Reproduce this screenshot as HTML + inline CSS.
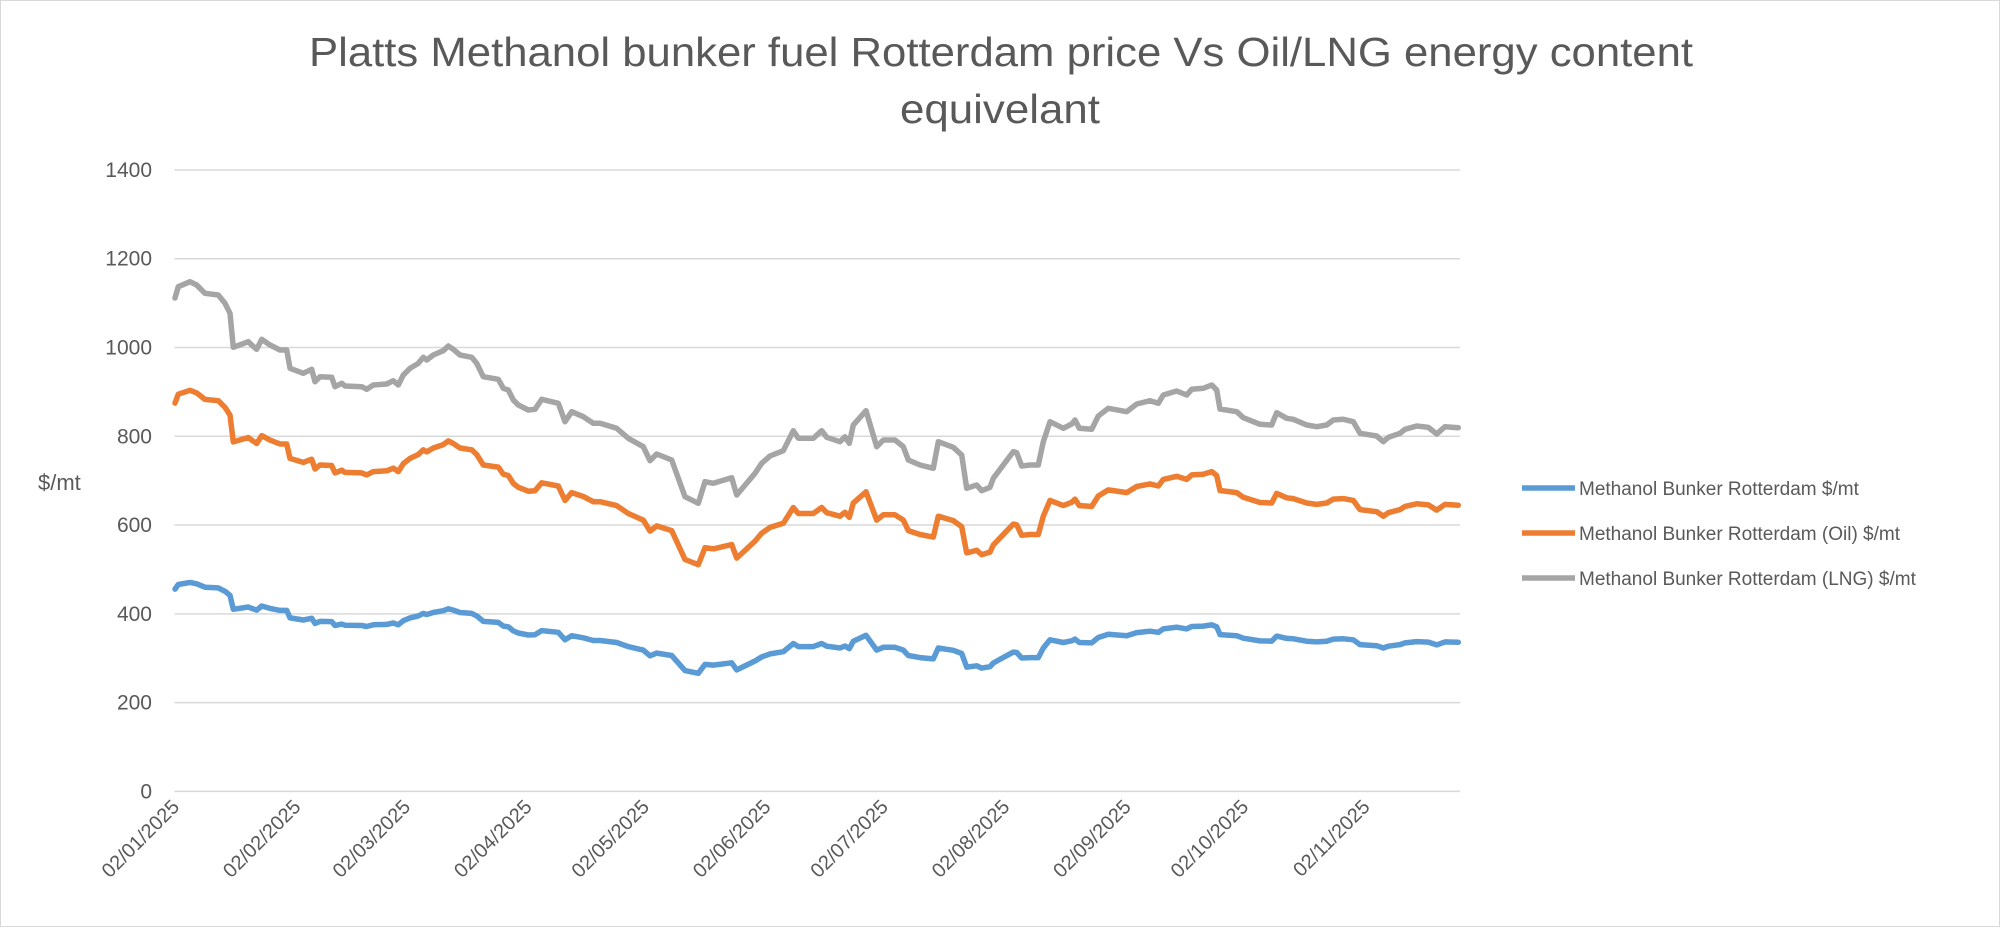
<!DOCTYPE html>
<html><head><meta charset="utf-8"><style>
html,body{margin:0;padding:0;background:#fff;}
svg{display:block;}
text{font-family:"Liberation Sans",sans-serif;fill:#595959;}
</style></head><body>
<svg id="s" width="2000" height="927" viewBox="0 0 2000 927" xmlns="http://www.w3.org/2000/svg">
<rect x="0.5" y="0.5" width="1999" height="926" fill="#fff" stroke="#d9d9d9"/>
<text x="309" y="66" font-size="41" textLength="1384" lengthAdjust="spacingAndGlyphs">Platts Methanol bunker fuel Rotterdam price Vs Oil/LNG energy content</text>
<text x="900" y="123" font-size="41" textLength="200" lengthAdjust="spacingAndGlyphs">equivelant</text>
<g id="grid" stroke="#d9d9d9" stroke-width="1.5"></g>
<g id="ylab" font-size="21" text-anchor="end"></g>
<text x="38" y="490" font-size="22">$/mt</text>
<g id="xlab" font-size="20" text-anchor="end"></g>
<g id="series" fill="none" stroke-width="5.5" stroke-linejoin="round" stroke-linecap="round"></g>
<g font-size="19">
<line x1="1522" y1="488" x2="1575" y2="488" stroke="#5b9bd5" stroke-width="5.5"/>
<text x="1579" y="495">Methanol Bunker Rotterdam $/mt</text>
<line x1="1522" y1="533" x2="1575" y2="533" stroke="#ed7d31" stroke-width="5.5"/>
<text x="1579" y="540">Methanol Bunker Rotterdam (Oil) $/mt</text>
<line x1="1522" y1="578" x2="1575" y2="578" stroke="#a5a5a5" stroke-width="5.5"/>
<text x="1579" y="585">Methanol Bunker Rotterdam (LNG) $/mt</text>
</g>
</svg>
<script>
var NS="http://www.w3.org/2000/svg";
function el(p,n,a,t){var e=document.createElementNS(NS,n);for(var k in a)e.setAttribute(k,a[k]);if(t)e.textContent=t;p.appendChild(e);return e;}
var y0=791.4,ppu=0.4439,L=174.5,R=1460;
var g=document.getElementById('grid'),yl=document.getElementById('ylab');
for(var v=0;v<=1400;v+=200){var y=y0-v*ppu;el(g,'line',{x1:L,x2:R,y1:y,y2:y});el(yl,'text',{x:152,y:y+7},String(v));}
var xl=document.getElementById('xlab');
var days=[0,31,59,90,120,151,181,212,243,273,304],labs=["02/01/2025","02/02/2025","02/03/2025","02/04/2025","02/05/2025","02/06/2025","02/07/2025","02/08/2025","02/09/2025","02/10/2025","02/11/2025"];
for(var i=0;i<days.length;i++){var x=L+days[i]*3.916;el(xl,'text',{x:x+6,y:808,transform:'rotate(-45 '+(x+6)+' 808)'},labs[i]);}
var P=[[175,298],[178.3,286.7],[190,281.7],[196.7,285],[205,293.3],[218.3,295],[225,303.3],[230,313.3],[233.3,347.3],[248.3,341.7],[251.7,345],[256.7,349.3],[261.7,339.3],[270,345],[280,350],[286.7,350],[290,368.3],[303.3,373.3],[311.7,369.3],[315,381.7],[320,376.7],[331.7,377.3],[335,386.7],[341.7,383.3],[345,386],[361.7,386.7],[366.7,389.3],[373.3,385],[386.7,384],[393.3,380.7],[398.3,385],[403.3,375],[410,368.3],[418.3,363.3],[423.3,357.3],[426.7,360],[433.3,355],[443.3,350.7],[448.3,346],[453.3,349.3],[460,355],[471.7,357.3],[476.7,363.3],[483.3,376.7],[498.3,379.3],[503.3,388.3],[508.3,390],[513.3,400],[518.3,405],[528.3,410],[535,409.3],[541.7,399.3],[558.3,403.3],[565,421.7],[571.7,411.7],[583.3,416.7],[593.3,423.3],
[600,423.3],[616.7,428.3],[628.3,438.3],[643.3,446.7],[650,460.7],[656.7,454],[671.7,460],[685,496.7],[698.3,503.3],[705,481.7],[713.3,483.3],[731.7,477.7],[736.7,495],[755,473.3],[761.7,463.3],[770,456],[783.3,450.7],[793.3,430.7],[798.3,438.3],[813.3,438.3],[821.7,430.7],[826.7,437.3],[840,441.7],[845,436.7],[849.3,443.3],[853.3,425],[866,410.7],[876.7,446.7],[883.3,440],[895,440],[903.3,446.7],[908.3,460],[920,465],[933.3,468.3],[938.3,441.7],[953.3,447.3],[961.7,455],[966.7,488.3],[976.7,485],[981.7,490.7],[990,487.3],[993.3,478.3],[1005,462.7],[1013.3,451.7],[1016.7,452.7],[1021.7,466],[1030,465],[1038.3,465],[1043.3,441.7],[1050,421.7],[1063.3,428.3],[1071.7,424],[1075,420],[1079.3,428.3],[1091.7,429.3],[1098.3,416],[1108.3,408.3],[1126.7,411.7],[1136.7,404],[1150,400.7],[1158.3,403.3],[1163.3,395],[1176.7,391],[1186.7,395],[1191.7,389.3],[1203.3,388.3],[1211.7,385],[1216.7,390],[1220,409],[1236.7,411.7],[1243.3,417.7],[1260,424.3],[1271.7,425],[1276.7,412.7],[1286.7,418.3],[1293.3,419.3],[1306.7,425],[1316.7,426.7],[1326.7,425],[1333.3,420],[1343.3,419.3],[1353.3,421.7],[1360,433.3],[1376.7,436],[1383.3,441.7],[1388.3,437.3],[1400,433.3],[1405,429.3],[1416.7,426],[1428.3,427.3],[1436.7,434],[1445,426.7],[1458.3,427.7]];
var s=document.getElementById('series');
function path(k,c){var d='';for(var i=0;i<P.length;i++){var y=y0-(y0-P[i][1])*k;d+=(i?'L':'M')+P[i][0].toFixed(1)+' '+y.toFixed(1);}el(s,'path',{d:d,stroke:c});}
path(0.41,'#5b9bd5');path(0.787,'#ed7d31');path(1,'#a5a5a5');
</script>
</body></html>
